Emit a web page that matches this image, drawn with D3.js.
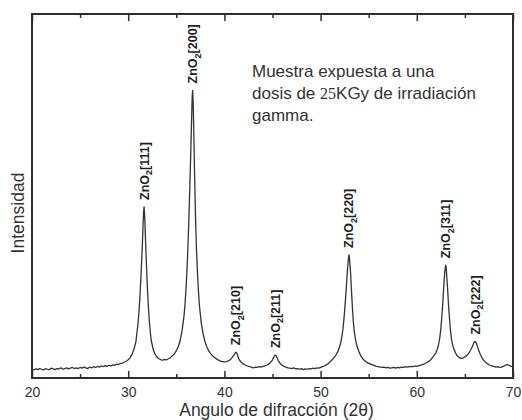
<!DOCTYPE html>
<html>
<head>
<meta charset="utf-8">
<script src="https://cdn.jsdelivr.net/npm/d3@7"></script>
<style>
  body { margin: 0; background: #fff; }
  svg { display: block; font-family: Arial, "Liberation Sans", sans-serif; }
</style>
</head>
<body>
<svg id="chart" width="522" height="420"></svg>
<script>
var twoTheta = [
  20.0, 20.2, 20.4, 20.6, 20.8, 21.0, 21.2, 21.4, 21.6, 21.8,
  22.0, 22.2, 22.4, 22.6, 22.8, 23.0, 23.2, 23.4, 23.6, 23.8,
  24.0, 24.2, 24.4, 24.6, 24.8, 25.0, 25.2, 25.4, 25.6, 25.8,
  26.0, 26.2, 26.4, 26.6, 26.8, 27.0, 27.2, 27.4, 27.6, 27.8,
  28.0, 28.2, 28.4, 28.6, 28.8, 29.0, 29.2, 29.4, 29.6, 29.8,
  30.0, 30.2, 30.4, 30.6, 30.8, 31.0, 31.1, 31.2, 31.3, 31.4,
  31.5, 31.55, 31.6, 31.65, 31.7, 31.75, 31.8, 31.9, 32.0, 32.1,
  32.2, 32.3, 32.4, 32.6, 32.8, 33.0, 33.2, 33.4, 33.6, 33.8,
  34.0, 34.2, 34.4, 34.6, 34.8, 35.0, 35.2, 35.4, 35.6, 35.8,
  35.9, 36.0, 36.1, 36.2, 36.3, 36.4, 36.5, 36.6, 36.65, 36.7,
  36.75, 36.8, 36.9, 37.0, 37.1, 37.2, 37.3, 37.4, 37.5, 37.6,
  37.8, 38.0, 38.2, 38.4, 38.6, 38.8, 39.0, 39.2, 39.4, 39.6,
  39.8, 40.0, 40.2, 40.4, 40.6, 40.8, 41.0, 41.1, 41.2, 41.3,
  41.4, 41.5, 41.6, 41.8, 42.0, 42.2, 42.4, 42.6, 42.8, 43.0,
  43.2, 43.4, 43.6, 43.8, 44.0, 44.2, 44.4, 44.6, 44.8, 45.0,
  45.1, 45.2, 45.3, 45.4, 45.5, 45.6, 45.8, 46.0, 46.2, 46.4,
  46.6, 46.8, 47.0, 47.2, 47.4, 47.6, 47.8, 48.0, 48.2, 48.4,
  48.6, 48.8, 49.0, 49.2, 49.4, 49.6, 49.8, 50.0, 50.2, 50.4,
  50.6, 50.8, 51.0, 51.2, 51.4, 51.6, 51.8, 52.0, 52.1, 52.2,
  52.3, 52.4, 52.5, 52.6, 52.7, 52.8, 52.9, 52.95, 53.0, 53.1,
  53.2, 53.3, 53.4, 53.5, 53.6, 53.7, 53.8, 54.0, 54.2, 54.4,
  54.6, 54.8, 55.0, 55.2, 55.4, 55.6, 55.8, 56.0, 56.2, 56.4,
  56.6, 56.8, 57.0, 57.2, 57.4, 57.6, 57.8, 58.0, 58.2, 58.4,
  58.6, 58.8, 59.0, 59.2, 59.4, 59.6, 59.8, 60.0, 60.2, 60.4,
  60.6, 60.8, 61.0, 61.2, 61.4, 61.6, 61.8, 62.0, 62.1, 62.2,
  62.3, 62.4, 62.5, 62.6, 62.7, 62.8, 62.9, 63.0, 63.05, 63.1,
  63.2, 63.3, 63.4, 63.5, 63.6, 63.7, 63.8, 64.0, 64.2, 64.4,
  64.6, 64.8, 65.0, 65.2, 65.4, 65.6, 65.8, 65.9, 66.0, 66.1,
  66.2, 66.3, 66.4, 66.6, 66.8, 67.0, 67.2, 67.4, 67.6, 67.8,
  68.0, 68.2, 68.4, 68.6, 68.8, 69.0, 69.2, 69.4, 69.6, 69.8,
  70.0
];
var intensidad = [
  2.4, 2.2, 2.5, 2.3, 2.6, 2.4, 2.2, 2.6, 2.4, 2.3,
  2.7, 2.5, 2.3, 2.6, 2.5, 2.8, 2.4, 2.6, 2.8, 2.5,
  2.7, 2.9, 2.6, 2.8, 2.6, 2.9, 2.7, 3.0, 2.8, 2.6,
  3.0, 2.8, 3.1, 2.9, 3.2, 3.0, 3.3, 3.1, 3.4, 3.2,
  3.5, 3.3, 3.6, 3.5, 3.8, 3.7, 4.0, 4.1, 4.4, 4.6,
  5.0, 5.6, 6.5, 7.9, 10.0, 14.5, 17.5, 21.5, 26.5, 32.0,
  38.5, 42.5, 45.5, 47.0, 45.0, 42.0, 38.0, 31.0, 24.5, 19.5,
  15.5, 12.5, 10.3, 7.8, 6.5, 5.7, 5.3, 5.0, 4.9, 5.1,
  5.0, 5.3, 5.6, 6.1, 6.6, 7.5, 8.6, 10.3, 13.0, 17.0,
  20.0, 24.0, 29.0, 35.5, 43.0, 52.0, 61.5, 72.0, 77.0, 79.0,
  76.0, 70.0, 56.0, 44.0, 35.0, 29.0, 24.0, 20.0, 17.5, 15.0,
  12.0, 9.8, 8.4, 7.3, 6.6, 6.0, 5.6, 5.2, 4.9, 4.6,
  4.5, 4.4, 4.5, 4.7, 5.0, 5.6, 6.3, 6.8, 7.1, 6.8,
  6.0, 5.3, 4.8, 4.2, 3.8, 3.5, 3.3, 3.1, 3.0, 2.8,
  3.0, 2.9, 3.1, 3.0, 3.2, 3.3, 3.5, 3.8, 4.3, 5.0,
  5.6, 6.1, 6.3, 6.0, 5.4, 4.8, 4.0, 3.5, 3.2, 3.0,
  2.8, 2.7, 2.6, 2.8, 2.5, 2.6, 2.4, 2.6, 2.3, 2.5,
  2.4, 2.6, 2.5, 2.7, 2.6, 2.8, 2.7, 2.9, 3.1, 3.3,
  3.6, 4.0, 4.5, 5.0, 5.6, 6.3, 7.3, 8.8, 9.8, 11.2,
  13.0, 15.5, 18.5, 22.0, 26.0, 30.0, 33.0, 33.8, 33.0, 29.5,
  24.5, 19.6, 15.5, 12.8, 11.0, 9.7, 8.6, 7.1, 6.0, 5.2,
  4.7, 4.3, 4.0, 3.8, 3.6, 3.4, 3.2, 3.1, 3.0, 2.9,
  3.0, 2.8, 2.9, 2.7, 2.8, 2.9, 2.7, 2.9, 2.8, 3.0,
  2.9, 3.1, 3.0, 3.1, 3.2, 3.1, 3.3, 3.2, 3.4, 3.5,
  3.7, 3.9, 4.2, 4.5, 4.9, 5.5, 6.2, 7.0, 7.7, 8.5,
  9.7, 11.3, 13.5, 16.8, 20.5, 25.0, 29.0, 31.0, 30.5, 28.5,
  24.5, 20.0, 16.3, 13.0, 10.8, 9.4, 8.4, 7.0, 6.1, 5.6,
  5.4, 5.5, 5.8, 6.2, 6.8, 7.7, 8.8, 9.5, 10.0, 10.0,
  9.5, 8.7, 7.8, 6.5, 5.4, 4.7, 4.2, 3.8, 3.5, 3.3,
  3.2, 3.0, 3.1, 2.9, 3.0, 3.2, 3.5, 3.7, 3.5, 3.2,
  3.1
];

// picos indexados
var picoHkl = ["[111]", "[200]", "[210]", "[211]", "[220]", "[311]", "[222]"];
var picoPos = [31.65, 36.7, 41.2, 45.3, 52.95, 63.0, 66.05];
var picoInt = [47.0, 79.0, 7.1, 6.3, 33.8, 31.0, 10.0];

var ticksMayores = [20, 30, 40, 50, 60, 70];
var ticksMenores = [25, 35, 45, 55, 65];

var nota = ["Muestra expuesta a una", "dosis de |25|KGy de irradiación", "gamma."];

var margin = { top: 14, right: 9, bottom: 42, left: 32 };
var width = 522, height = 420;
var svg = d3.select('#chart');

var x = d3.scaleLinear().domain([20, 70]).range([margin.left, width - margin.right]);
var y = d3.scaleLinear().domain([0, 100]).range([height - margin.bottom, margin.top]);

var ink = '#2e2e2e';

// curva
var datos = d3.zip(twoTheta, intensidad);
var line = d3.line()
    .x(d => x(d[0]))
    .y(d => y(d[1]));

svg.append('path')
    .datum(datos)
    .attr('d', line)
    .attr('fill', 'none')
    .attr('stroke', '#333')
    .attr('stroke-width', 1.3)
    .attr('stroke-linejoin', 'round');

// ejes (ticks hacia adentro)
var yBottom = height - margin.bottom;
var gx = svg.append('g').attr('transform', 'translate(0,' + yBottom + ')')
    .call(d3.axisBottom(x).tickValues(ticksMayores).tickSize(-7).tickPadding(9).tickFormat(d3.format('d')));
svg.append('g').attr('transform', 'translate(0,' + yBottom + ')')
    .call(d3.axisBottom(x).tickValues(ticksMenores).tickSize(-4).tickFormat(''));
svg.append('g').attr('transform', 'translate(0,' + margin.top + ')')
    .call(d3.axisTop(x).tickValues(ticksMayores).tickSize(-7).tickFormat(''));
svg.append('g').attr('transform', 'translate(0,' + margin.top + ')')
    .call(d3.axisTop(x).tickValues(ticksMenores).tickSize(-4).tickFormat(''));

svg.selectAll('.domain').remove();
svg.selectAll('.tick line').attr('stroke', ink).attr('stroke-width', 1.5);
gx.selectAll('.tick text')
    .attr('fill', '#333')
    .style('font-size', '14px')
    .style('font-family', 'Arial, "Liberation Sans", sans-serif');

// marco
svg.append('rect')
    .attr('x', margin.left)
    .attr('y', margin.top)
    .attr('width', width - margin.left - margin.right)
    .attr('height', height - margin.top - margin.bottom)
    .attr('fill', 'none')
    .attr('stroke', ink)
    .attr('stroke-width', 2);

// titulos
svg.append('text')
    .attr('x', x(45) + 4)
    .attr('y', 416)
    .attr('text-anchor', 'middle')
    .attr('fill', '#333')
    .style('font-size', '17.5px')
    .text('Angulo de difracción (2θ)');

svg.append('text')
    .attr('transform', 'translate(24,' + 213 + ') rotate(-90)')
    .attr('text-anchor', 'middle')
    .attr('fill', '#333')
    .style('font-size', '17.5px')
    .text('Intensidad');

// etiquetas de los picos
picoHkl.forEach(function (hkl, i) {
    var t = svg.append('text')
        .attr('transform', 'translate(' + (x(picoPos[i]) + 4.5) + ',' + (y(picoInt[i]) - 7) + ') rotate(-90)')
        .attr('fill', '#1e1e1e')
        .style('font-size', '12.5px')
        .style('font-weight', 'bold');
    t.append('tspan').text('ZnO');
    t.append('tspan').attr('dy', 3.5).style('font-size', '9px').text('2');
    t.append('tspan').attr('dy', -3.5).text(hkl);
});

// nota
var g = svg.append('text')
    .attr('x', 252)
    .attr('y', 77)
    .attr('fill', '#333')
    .style('font-size', '17px');
nota.forEach(function (linea, i) {
    var partes = linea.split('|');
    partes.forEach(function (p, j) {
        var ts = g.append('tspan').text(p);
        if (j === 0) ts.attr('x', 252).attr('dy', i === 0 ? 0 : 22);
        if (j === 1) ts.style('font-family', '"Liberation Serif", "DejaVu Serif", serif').style('font-size', '16px');
    });
});
</script>
</body>
</html>
